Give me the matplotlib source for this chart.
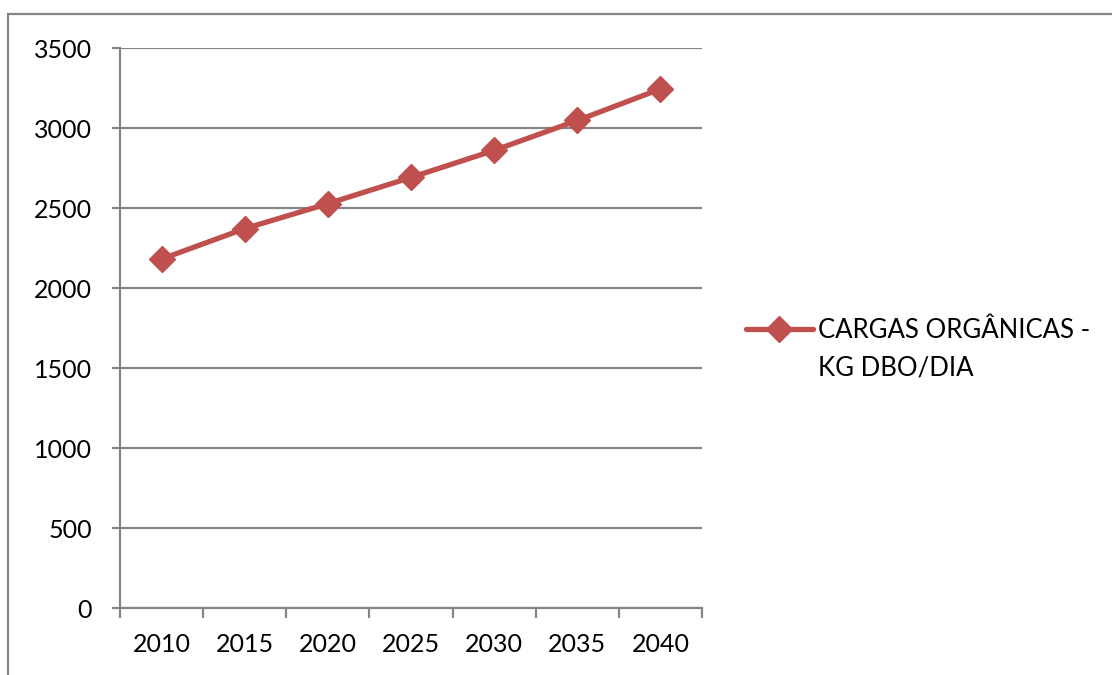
import matplotlib.pyplot as plt
from matplotlib.patches import Rectangle

anos = ['2010', '2015', '2020', '2025', '2030', '2035', '2040']
cargas = [2181, 2371, 2527, 2691, 2860, 3047, 3244]
serie = ['CARGAS ORGÂNICAS -', 'KG DBO/DIA']

plt.rcParams['font.family'] = ['Lato', 'DejaVu Sans']

cinza = '#868686'
vermelho = '#C0504D'

fig = plt.figure(figsize=(11.12, 6.75), dpi=100)

# moldura externa do grafico
fig.patches.append(Rectangle((8 / 1112, -0.1), 1.2, 1 - 14 / 675 + 0.1,
                             transform=fig.transFigure, fill=False,
                             edgecolor=cinza, linewidth=1.6))

ax = fig.add_axes([120 / 1112, 1 - 608 / 675, 582 / 1112, 560 / 675])

x = list(range(len(anos)))
ax.plot(x, cargas, color=vermelho, linewidth=3.8, marker='D',
        markersize=13, label=serie[0], solid_capstyle='round')

ax.set_ylim(0, 3500)
ax.set_yticks(range(0, 3501, 500))
ax.set_xlim(-0.5, len(anos) - 0.5)
ax.set_xticks(x)
ax.set_xticklabels(anos)
ax.set_xticks([i - 0.5 for i in range(len(anos) + 1)], minor=True)

ax.grid(axis='y', color=cinza, linewidth=1.6)
ax.set_axisbelow(True)
for lado in ['top', 'right']:
    ax.spines[lado].set_visible(False)
for lado in ['left', 'bottom']:
    ax.spines[lado].set_color(cinza)
    ax.spines[lado].set_linewidth(1.6)

ax.tick_params(axis='y', length=6, width=1.6, color=cinza, labelsize=18, pad=14)
ax.tick_params(axis='x', which='major', length=0, labelsize=18, pad=18)
ax.tick_params(axis='x', which='minor', length=7, width=1.6, color=cinza)

# legenda: primeira linha com o simbolo, segunda linha logo abaixo
leg = ax.legend(loc='center left', bbox_to_anchor=(746 / 1112, 1 - 330 / 675),
                bbox_transform=fig.transFigure, frameon=False, fontsize=18.5,
                handlelength=2.6, handletextpad=0.2, borderpad=0, borderaxespad=0)
fig.text(818 / 1112, 1 - 368 / 675, serie[1], fontsize=18.5,
         ha='left', va='center')

fig.savefig('out.png', dpi=100)
